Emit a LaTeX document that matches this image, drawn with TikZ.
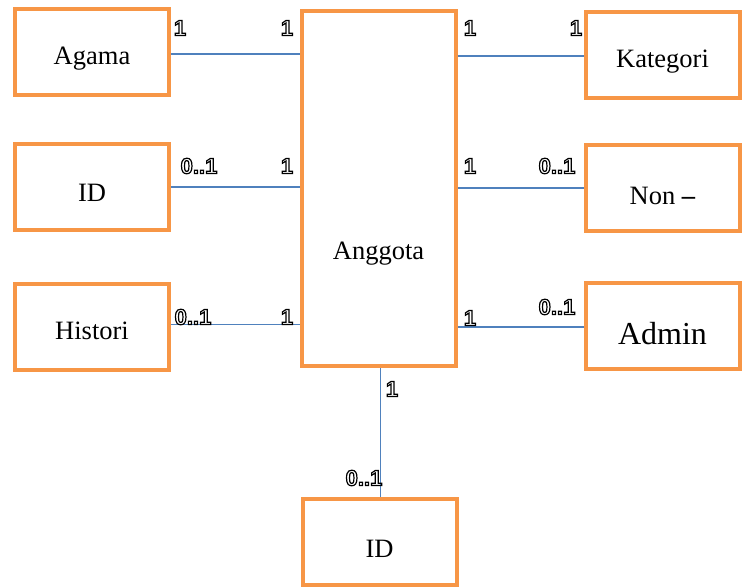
\documentclass[tikz,border=0pt]{standalone}
\usepackage{fontspec}
\setmainfont{Liberation Serif}
\newfontfamily\labfont{Liberation Sans}
\usepackage{tikz}
\definecolor{boxorange}{HTML}{F79646}
\definecolor{lineblue}{HTML}{4F81BD}
% outlined figures for the multiplicities
\newcommand{\hollow}[1]{\special{pdf:literal 1 Tr 1.2 w}#1\special{pdf:literal 0 Tr}}

\begin{document}
\begin{tikzpicture}[x=1pt,y=-1pt]
            \tikzstyle{entity}=[draw=boxorange, line width=4pt, fill=white,
                minimum width=154pt, minimum height=86pt, inner sep=0pt,
                text height=26pt, text depth=0pt, font=\fontsize{26.5}{30}\selectfont]
            \tikzstyle{link}=[lineblue, line width=1.5pt]
            \tikzstyle{mult}=[inner sep=0pt, font=\labfont\bfseries\fontsize{22}{24}\selectfont]
            \useasboundingbox (0,0) rectangle (744,588);
            % entities
            \node [entity] (agama) at (92,52) {Agama};
            \node [entity, text height=30pt] (idl) at (92,187) {ID};
            \node [entity] (histori) at (92,326.5) {Histori};
            \node [entity, minimum height=355pt, text height=141pt] (anggota) at (378.5,188.5) {Anggota};
            \node [entity] (kategori) at (662.5,55) {Kategori};
            \node [entity, text height=34pt] (non) at (662.5,188) {Non \textbf{--}};
            \node [entity, text height=36pt, font=\fontsize{32}{36}\selectfont] (admin) at (662.5,326) {Admin};
            \node [entity, text height=31pt] (idb) at (379.5,541.5) {ID};
            % relations
            \draw [link] ([yshift=-2pt]agama.east) -- ([yshift=-2pt]agama.east -| anggota.west);
            \draw [link] ([yshift=-1pt]kategori.west) -- ([yshift=-1pt]kategori.west -| anggota.east);
            \draw [link] (idl.east) -- (idl.east -| anggota.west);
            \draw [link] (non.west) -- (non.west -| anggota.east);
            \draw [link] ([yshift=2pt]histori.east) -- ([yshift=2pt]histori.east -| anggota.west);
            \draw [link] ([yshift=-1pt]admin.west) -- ([yshift=-1pt]admin.west -| anggota.east);
            \draw [link] ([xshift=1pt]idb.north) -- ([xshift=1pt]idb.north |- anggota.south);
            % multiplicities
            \node [mult] (m1) at (180,28) {\hollow{1}};
            \node [mult] (m2) at (287,28) {\hollow{1}};
            \node [mult] (m3) at (470,28) {\hollow{1}};
            \node [mult] (m4) at (576,28) {\hollow{1}};
            \node [mult] (m5) at (199,166) {\hollow{0..1}};
            \node [mult] (m6) at (287,166) {\hollow{1}};
            \node [mult] (m7) at (470,166) {\hollow{1}};
            \node [mult] (m8) at (557,166) {\hollow{0..1}};
            \node [mult] (m9) at (193,317) {\hollow{0..1}};
            \node [mult] (m10) at (287,317) {\hollow{1}};
            \node [mult] (m11) at (470,318) {\hollow{1}};
            \node [mult] (m12) at (557,307) {\hollow{0..1}};
            \node [mult] (m13) at (392,389) {\hollow{1}};
            \node [mult] (m14) at (364,478) {\hollow{0..1}};
        \end{tikzpicture}
\end{document}
